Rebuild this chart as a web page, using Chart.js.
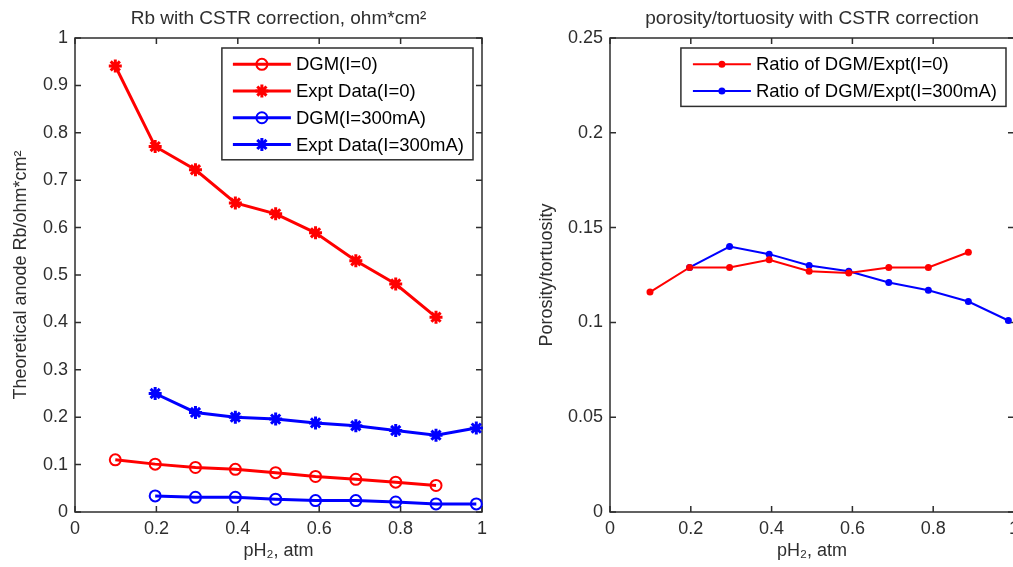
<!DOCTYPE html>
<html>
<head>
<meta charset="utf-8">
<title>Rb and porosity/tortuosity vs pH2</title>
<script src="https://cdn.jsdelivr.net/npm/chart.js@4.4.0/dist/chart.umd.min.js"></script>
<style>
    body { margin: 0; width: 1013px; height: 567px; overflow: hidden; background: #fff; }
    canvas { position: absolute; top: 0; }
    #rbChart { left: 0; }
    #ratioChart { left: 515px; }
</style>
</head>
<body>
<canvas id="rbChart" width="510" height="567"></canvas>
<canvas id="ratioChart" width="510" height="567"></canvas>
<script>
// pH2 values, atm
const phI0 = [0.099, 0.197, 0.296, 0.394, 0.493, 0.591, 0.690, 0.788, 0.887];
const phI300 = [0.197, 0.296, 0.394, 0.493, 0.591, 0.690, 0.788, 0.887, 0.986];

// Rb, ohm*cm^2
const dgmI0 = [0.110, 0.101, 0.094, 0.090, 0.083, 0.075, 0.069, 0.063, 0.056];
const exptI0 = [0.941, 0.771, 0.722, 0.652, 0.629, 0.589, 0.530, 0.481, 0.411];
const dgmI300 = [0.034, 0.031, 0.031, 0.027, 0.024, 0.024, 0.021, 0.017, 0.017];
const exptI300 = [0.250, 0.210, 0.200, 0.196, 0.188, 0.182, 0.172, 0.162, 0.177];

// porosity/tortuosity, ratio of DGM to experiment
const ratioI0 = [0.116, 0.129, 0.129, 0.133, 0.127, 0.126, 0.129, 0.129, 0.137];
const ratioI300 = [0.129, 0.140, 0.136, 0.130, 0.127, 0.121, 0.117, 0.111, 0.101];

// tick labels
const phTicks = [0, 0.2, 0.4, 0.6, 0.8, 1];
const rbTicks = [0, 0.1, 0.2, 0.3, 0.4, 0.5, 0.6, 0.7, 0.8, 0.9, 1];
const ratioTicks = [0, 0.05, 0.1, 0.15, 0.2, 0.25];

const RED = '#ff0000';
const BLUE = '#0000ff';
const AXIS = '#2e2e2e';
const FONT = '"Liberation Sans", Arial, Helvetica, sans-serif';
const tickFont = { family: FONT, size: 18 };

function points(xs, ys) {
    return xs.map((x, i) => ({ x: x, y: ys[i] }));
}

// box round the plot area with inward ticks on all four sides
const boxAxes = {
    id: 'boxAxes',
    beforeDatasetsDraw(chart) {
        const ctx = chart.ctx;
        const a = chart.chartArea;
        const x = chart.scales.x;
        const y = chart.scales.y;
        const len = 6;
        ctx.save();
        ctx.strokeStyle = AXIS;
        ctx.lineWidth = 1.5;
        ctx.strokeRect(a.left, a.top, a.right - a.left, a.bottom - a.top);
        ctx.beginPath();
        x.ticks.forEach(t => {
            const px = x.getPixelForValue(t.value);
            ctx.moveTo(px, a.bottom); ctx.lineTo(px, a.bottom - len);
            ctx.moveTo(px, a.top); ctx.lineTo(px, a.top + len);
        });
        y.ticks.forEach(t => {
            const py = y.getPixelForValue(t.value);
            ctx.moveTo(a.left, py); ctx.lineTo(a.left + len, py);
            ctx.moveTo(a.right, py); ctx.lineTo(a.right - len, py);
        });
        ctx.stroke();
        ctx.restore();
    }
};

// boxed legend in the top right corner of the plot area
const boxLegend = {
    id: 'boxLegend',
    afterDatasetsDraw(chart, args, opts) {
        const ctx = chart.ctx;
        const a = chart.chartArea;
        const sets = chart.data.datasets;
        const rowH = 26.7;
        ctx.save();
        ctx.font = '18.5px ' + FONT;
        const textW = Math.max(...sets.map(d => ctx.measureText(d.label).width));
        const w = opts.padLeft + 58 + 5 + textW + 9;
        const h = sets.length * rowH + 5;
        const left = a.right - opts.margin - w;
        const top = a.top + 10;
        ctx.fillStyle = '#fff';
        ctx.fillRect(left, top, w, h);
        ctx.strokeStyle = AXIS;
        ctx.lineWidth = 1.5;
        ctx.strokeRect(left, top, w, h);
        sets.forEach((d, i) => {
            const cy = top + 3 + rowH / 2 + i * rowH;
            const x0 = left + opts.padLeft;
            ctx.strokeStyle = d.borderColor;
            ctx.lineWidth = d.borderWidth;
            ctx.beginPath();
            ctx.moveTo(x0, cy);
            ctx.lineTo(x0 + 58, cy);
            ctx.stroke();
            ctx.fillStyle = d.pointBackgroundColor;
            ctx.strokeStyle = d.pointBorderColor;
            ctx.lineWidth = d.pointBorderWidth;
            Chart.helpers.drawPoint(ctx, {
                pointStyle: d.pointStyle,
                radius: d.pointRadius,
                rotation: 0,
                borderWidth: d.pointBorderWidth
            }, x0 + 29, cy);
            ctx.fillStyle = '#000';
            ctx.textBaseline = 'middle';
            ctx.textAlign = 'left';
            ctx.fillText(d.label, x0 + 63, cy + 1);
        });
        ctx.restore();
    }
};

function xScale() {
    return {
        type: 'linear',
        min: 0,
        max: 1,
        afterBuildTicks: s => { s.ticks = phTicks.map(v => ({ value: v })); },
        afterFit: s => { s.height = 55; },
        grid: { display: false, drawTicks: false },
        border: { display: false },
        ticks: { padding: 6, color: AXIS, font: tickFont, maxRotation: 0, autoSkip: false, callback: v => String(v) },
        title: { display: true, text: 'pH\u2082, atm', color: AXIS, font: tickFont, padding: { top: 0, bottom: 5 } }
    };
}

function yScale(max, tickList, width, label, titlePad) {
    return {
        type: 'linear',
        min: 0,
        max: max,
        afterBuildTicks: s => { s.ticks = tickList.map(v => ({ value: v })); },
        afterFit: s => { s.width = width; },
        grid: { display: false, drawTicks: false },
        border: { display: false },
        ticks: { padding: 7, color: AXIS, font: tickFont, autoSkip: false, callback: v => String(v) },
        title: { display: true, text: label, color: AXIS, font: tickFont, padding: { top: titlePad, bottom: 0 } }
    };
}

function titleOpts(text) {
    return {
        display: true,
        text: text,
        fullSize: false,
        color: AXIS,
        font: { family: FONT, size: 19, weight: 'normal' },
        padding: { top: 7.6, bottom: 7.6 }
    };
}

function lineSet(label, xs, ys, color, style, radius, markerWidth, width) {
    return {
        label: label,
        data: points(xs, ys),
        borderColor: color,
        borderWidth: width,
        pointStyle: style,
        pointRadius: radius,
        pointBorderWidth: markerWidth,
        pointBorderColor: color,
        pointBackgroundColor: style === 'star' || markerWidth > 0 ? 'rgba(0,0,0,0)' : color,
        tension: 0,
        clip: false
    };
}

new Chart(document.getElementById('rbChart'), {
    type: 'line',
    data: {
        datasets: [
            lineSet('DGM(I=0)', phI0, dgmI0, RED, 'circle', 5.5, 2, 3),
            lineSet('Expt Data(I=0)', phI0, exptI0, RED, 'star', 6.5, 3, 3),
            lineSet('DGM(I=300mA)', phI300, dgmI300, BLUE, 'circle', 5.5, 2, 3),
            lineSet('Expt Data(I=300mA)', phI300, exptI300, BLUE, 'star', 6.5, 3, 3)
        ]
    },
    options: {
        responsive: false,
        animation: false,
        layout: { padding: { left: 0, right: 28, top: 0, bottom: 0 } },
        scales: {
            x: xScale(),
            y: yScale(1, rbTicks, 75, 'Theoretical anode Rb/ohm*cm\u00b2', 10)
        },
        plugins: {
            legend: { display: false },
            tooltip: { enabled: false },
            title: titleOpts('Rb with CSTR correction, ohm*cm\u00b2'),
            boxLegend: { padLeft: 11, margin: 9 }
        }
    },
    plugins: [boxAxes, boxLegend]
});

new Chart(document.getElementById('ratioChart'), {
    type: 'line',
    data: {
        datasets: [
            lineSet('Ratio of DGM/Expt(I=0)', phI0, ratioI0, RED, 'circle', 3.5, 0, 2),
            lineSet('Ratio of DGM/Expt(I=300mA)', phI300, ratioI300, BLUE, 'circle', 3.5, 0, 2)
        ]
    },
    options: {
        responsive: false,
        animation: false,
        layout: { padding: { left: 0, right: 10, top: 0, bottom: 0 } },
        scales: {
            x: xScale(),
            y: yScale(0.25, ratioTicks, 95, 'Porosity/tortuosity', 21)
        },
        plugins: {
            legend: { display: false },
            tooltip: { enabled: false },
            title: titleOpts('porosity/tortuosity with CSTR correction'),
            boxLegend: { padLeft: 12, margin: 8 }
        }
    },
    plugins: [boxAxes, boxLegend]
});
</script>
</body>
</html>
